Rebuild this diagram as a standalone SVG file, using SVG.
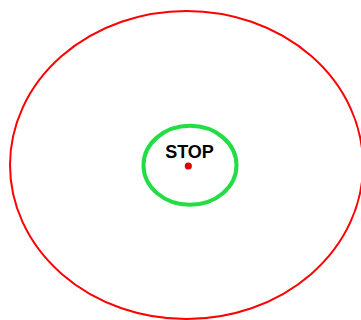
<svg xmlns="http://www.w3.org/2000/svg" width="361" height="320" viewBox="0 0 361 320">
<style>
.outer{fill:none;stroke:#ff0000;stroke-width:2}
.inner{fill:none;stroke:#22dd44;stroke-width:4}
.lbl{font-family:"Liberation Sans",Arial,sans-serif;font-weight:bold;font-size:18px;fill:#000;text-anchor:middle}
</style>
<rect width="361" height="320" fill="#ffffff"/>
<g id="outer-boundary">
<ellipse class="outer" cx="186.5" cy="165" rx="176.5" ry="154"/>
</g>
<g id="stop-zone">
<ellipse class="inner" cx="190" cy="165.3" rx="46.5" ry="39.5"/>
<text class="lbl" x="189.5" y="157.5">STOP</text>
<circle cx="188.3" cy="166" r="3.6" fill="#dd0000"/>
</g>
</svg>
